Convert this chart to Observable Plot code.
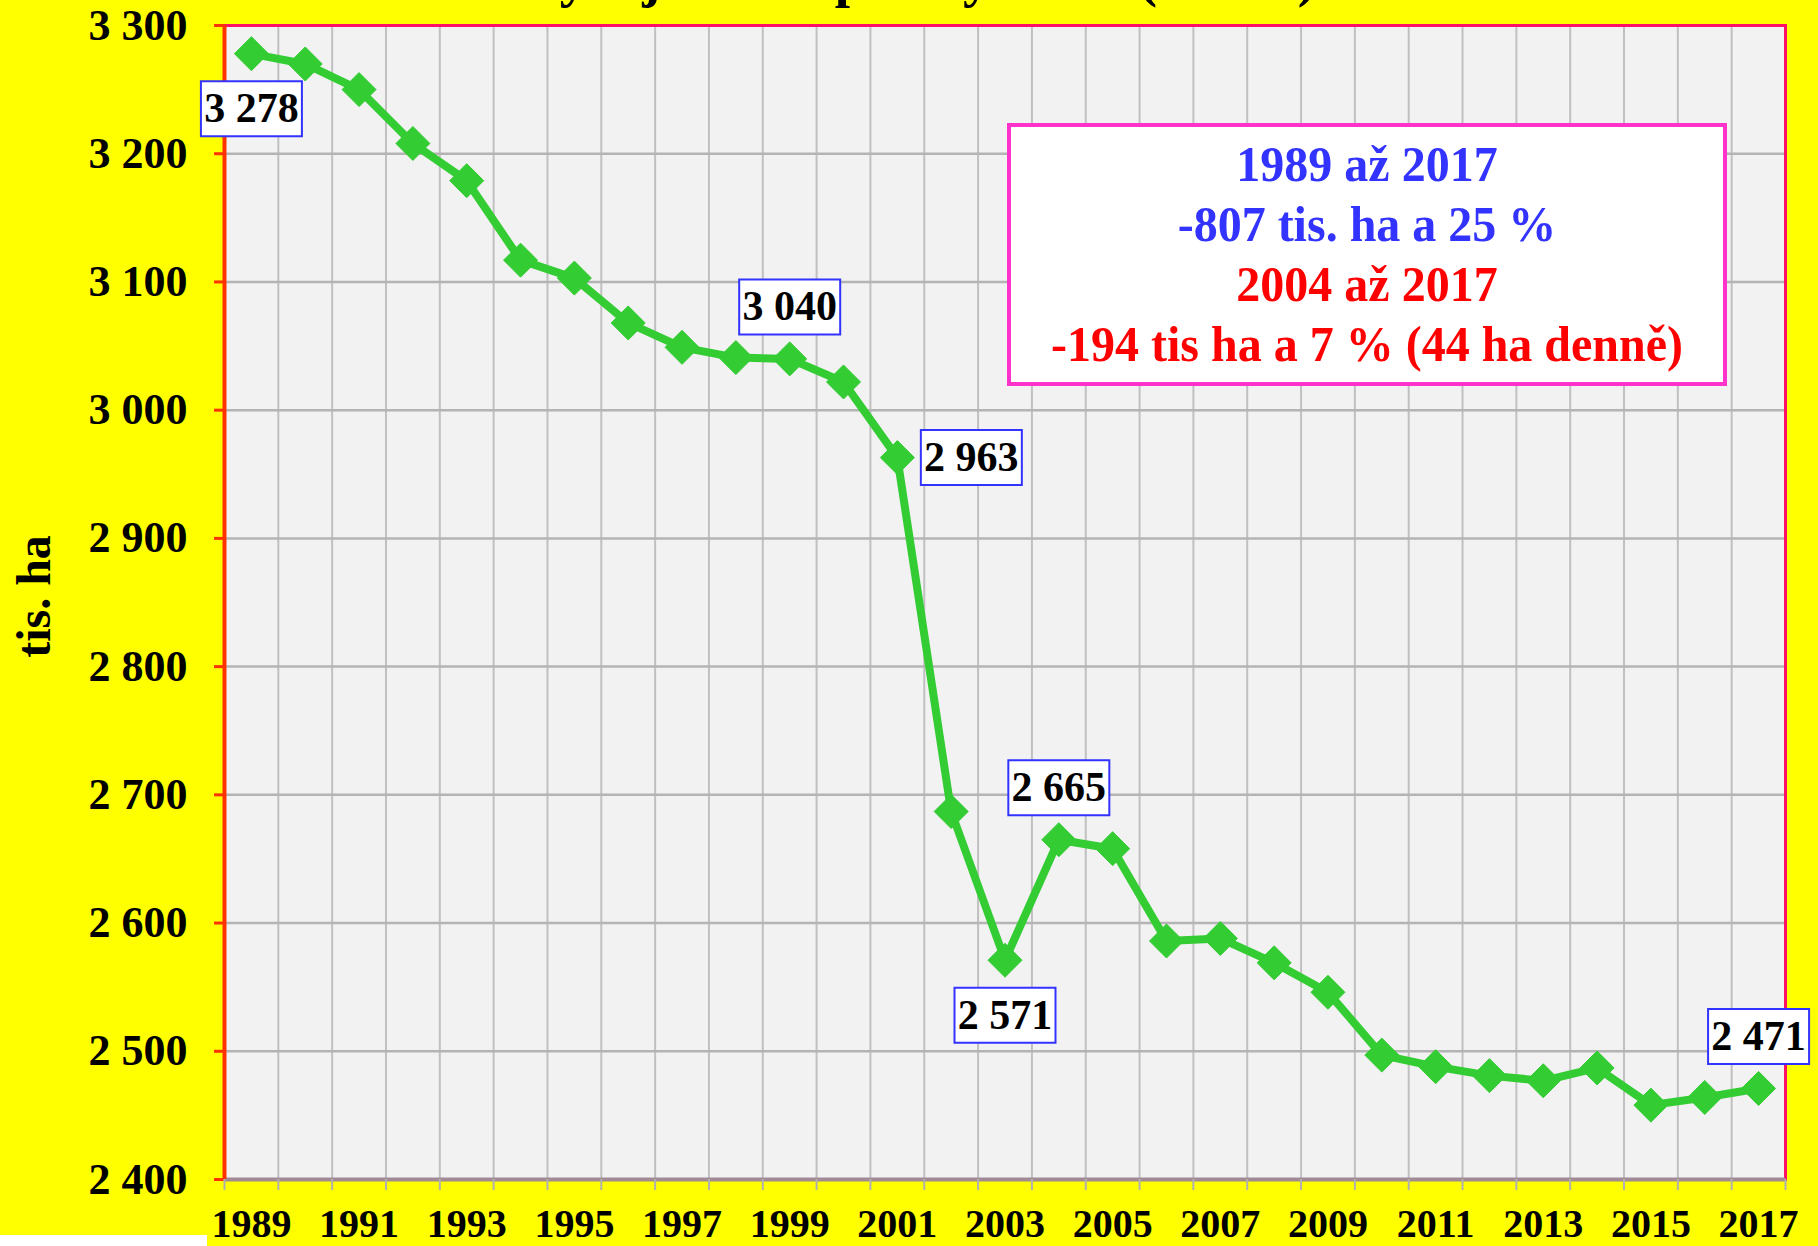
<!DOCTYPE html>
<html>
<head>
<meta charset="utf-8">
<script src="https://cdn.jsdelivr.net/npm/d3@7"></script>
<script src="https://cdn.jsdelivr.net/npm/@observablehq/plot@0.6"></script>
<style>
  html, body { margin: 0; padding: 0; background: #FFFF00; overflow: hidden; }
  #wrap { position: relative; width: 1818px; height: 1246px; overflow: hidden;
          font-family: "Liberation Serif", "Times New Roman", serif; }
  #chart svg { display: block; }
  #title { position: absolute; left: 18px; right: 0; top: -50px; text-align: center;
           font-size: 55px; line-height: 55px; font-weight: bold; white-space: nowrap; color: #000; }
  #note { position: absolute; left: 1007px; top: 123px; width: 720px; height: 263px;
          box-sizing: border-box; border: 4px solid #FF33CC; background: #fff;
          text-align: center; font-size: 50px; font-weight: bold; line-height: 60px; padding-top: 7px; }
  #note div { white-space: nowrap; transform: scaleX(0.96); }
  #foot { position: absolute; left: 0; top: 1235px; width: 207px; height: 11px; background: #fff; }
</style>
</head>
<body>
<div id="wrap">
  <div id="chart"></div>
  <div id="title"></div>
  <div id="note"></div>
  <div id="foot"></div>
</div>
<script>
// ---- data ----
const years = [1989, 1990, 1991, 1992, 1993, 1994, 1995, 1996, 1997, 1998, 1999, 2000, 2001, 2002, 2003,
               2004, 2005, 2006, 2007, 2008, 2009, 2010, 2011, 2012, 2013, 2014, 2015, 2016, 2017];
const area = [3278, 3270, 3250, 3208, 3179, 3117, 3103, 3068, 3049, 3041, 3040, 3022, 2963, 2687, 2571,
              2665, 2658, 2586, 2588, 2569, 2546, 2497, 2488, 2481, 2477, 2487, 2458, 2464, 2471];
const yTicks = [2400, 2500, 2600, 2700, 2800, 2900, 3000, 3100, 3200, 3300];
const xLabelYears = [1989, 1991, 1993, 1995, 1997, 1999, 2001, 2003, 2005, 2007, 2009, 2011, 2013, 2015, 2017];
const labelAbove = [1999, 2004, 2017];
const labelBelow = [1989, 2003];
const labelRight = [2001];
const titleText = "Vývoj osevní plochy v ČR (tis. ha)";
const yLabel = "tis. ha";
const noteLines = ["1989 až 2017", "-807 tis. ha a 25 %", "2004 až 2017", "-194 tis ha a 7 % (44 ha denně)"];
const noteColors = ["#3333FF", "#3333FF", "#FF0000", "#FF0000"];

// ---- build ----
const fmt = d3.formatLocale({decimal: ",", thousands: " ", grouping: [3], currency: ["", ""]}).format(",d");
const data = years.map((year, i) => ({year, value: area[i]}));
const bounds = years.map(y => y - 0.5).concat([years[years.length - 1] + 0.5]);
const innerBounds = bounds.slice(1, -1);
const serif = '"Liberation Serif", "Times New Roman", serif';

const diamond = {
  draw(ctx, size) {
    const r = Math.sqrt(size / Math.PI);
    ctx.moveTo(0, -r); ctx.lineTo(r, 0); ctx.lineTo(0, r); ctx.lineTo(-r, 0); ctx.closePath();
  }
};
const labelBox = {
  draw(ctx) {
    ctx.moveTo(-50.5, -27.5); ctx.lineTo(50.5, -27.5); ctx.lineTo(50.5, 27.5); ctx.lineTo(-50.5, 27.5); ctx.closePath();
  }
};

function labelMarks(list, dx, dy) {
  const d = data.filter(p => list.includes(p.year));
  return [
    Plot.dot(d, {x: "year", y: "value", symbol: labelBox, r: 10, fill: "white", stroke: "#3333FF", strokeWidth: 2, dx, dy}),
    Plot.text(d, {x: "year", y: "value", text: p => fmt(p.value), dx, dy, fontSize: 42, fontWeight: "bold", fill: "black"})
  ];
}

const chart = Plot.plot({
  width: 1818, height: 1246,
  marginLeft: 224, marginRight: 33, marginTop: 25, marginBottom: 67,
  style: {background: "#FFFF00", fontFamily: serif, overflow: "visible"},
  x: {type: "linear", domain: [bounds[0], bounds[bounds.length - 1]]},
  y: {domain: [yTicks[0], yTicks[yTicks.length - 1]]},
  marks: [
    Plot.frame({fill: "#F2F2F2", stroke: "none"}),
    Plot.gridX({ticks: innerBounds, stroke: "#C0C0C0", strokeOpacity: 1, strokeWidth: 2}),
    Plot.gridY({ticks: yTicks, stroke: "#B4B4B4", strokeOpacity: 1, strokeWidth: 2.5}),
    Plot.frame({stroke: "#FF1166", strokeWidth: 3}),
    Plot.ruleY([yTicks[0]], {stroke: "#A08A94", strokeWidth: 4}),
    Plot.ruleX([bounds[0]], {stroke: "#FF3300", strokeWidth: 4}),
    Plot.axisY({ticks: yTicks, tickFormat: fmt, tickSize: 10, tickPadding: 27, stroke: "#FF3300", strokeWidth: 3,
                color: "black", fontSize: 44, fontWeight: "bold", label: null}),
    Plot.axisX({ticks: bounds, tickFormat: () => "", tickSize: 11, stroke: "#B0B0B0", strokeWidth: 2, label: null}),
    Plot.axisX({ticks: xLabelYears, tickFormat: d => String(d), tickSize: 0, tickPadding: 29,
                color: "black", fontSize: 40, fontWeight: "bold", label: null}),
    Plot.text([yLabel], {frameAnchor: "left", textAnchor: "middle", dx: -190, dy: -6, rotate: -90,
                         fontSize: 48, fontWeight: "bold", fill: "black"}),
    Plot.line(data, {x: "year", y: "value", stroke: "#33CC33", strokeWidth: 8, strokeLinejoin: "round"}),
    Plot.dot(data, {x: "year", y: "value", symbol: diamond, r: 17, fill: "#33CC33", stroke: "#33CC33", strokeWidth: 1}),
    ...labelMarks(labelAbove, 0, -52),
    ...labelMarks(labelBelow, 0, 55),
    ...labelMarks(labelRight, 74, 0)
  ]
});
document.getElementById("chart").appendChild(chart);

document.getElementById("title").textContent = titleText;
const note = document.getElementById("note");
noteLines.forEach((t, i) => {
  const div = document.createElement("div");
  div.textContent = t;
  div.style.color = noteColors[i];
  note.appendChild(div);
});
</script>
</body>
</html>
